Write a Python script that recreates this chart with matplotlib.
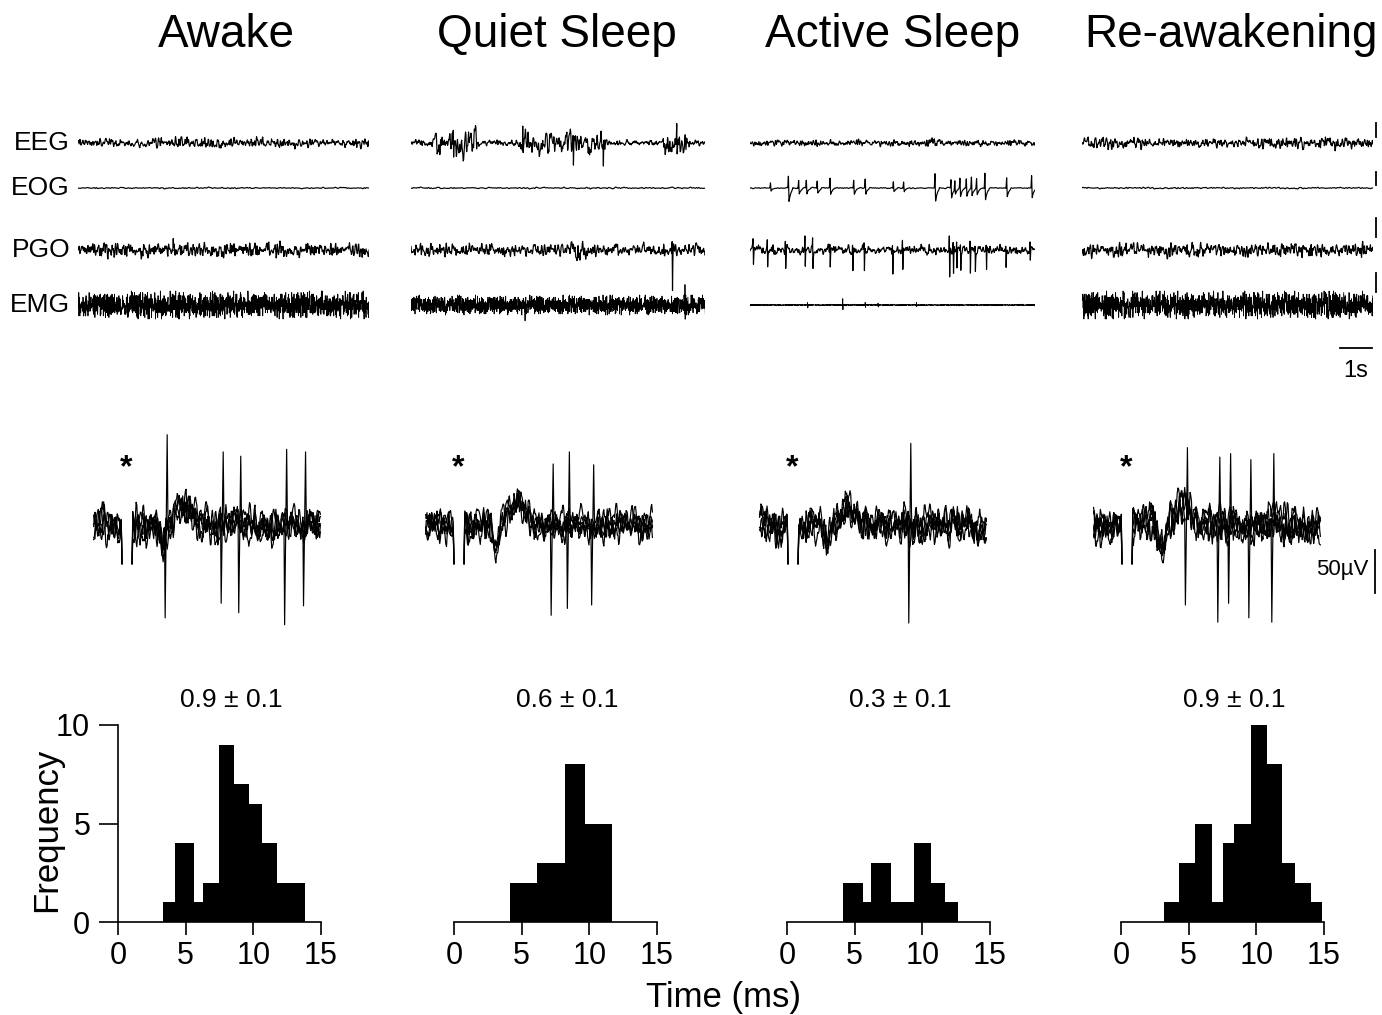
import numpy as np
import matplotlib.pyplot as plt

plt.rcParams['font.family'] = ['Liberation Sans', 'DejaVu Sans']

STATES = ["Awake", "Quiet Sleep", "Active Sleep", "Re-awakening"]
CHANNELS = ["EEG", "EOG", "PGO", "EMG"]

# ---- polygraphic records (top row) ----
RECORD_SECONDS = [9.1, 9.2, 8.9, 9.1]
# background amplitude of EEG, EOG, PGO, EMG in each state
TRACE_AMPLITUDE = [
    [6.0, 1.0, 9.0, 14.0],
    [4.0, 1.0, 8.0, 10.0],
    [4.0, 0.8, 6.0, 0.8],
    [6.0, 1.0, 9.0, 14.0],
]
# stretches of larger activity: (start s, end s, amplitude)
AWAKE_EEG_BURSTS = [(2.2, 4.6, 8), (5.5, 6.5, 8), (8.6, 9.1, 9)]
QUIET_EEG_BURSTS = [(0.66, 2.06, 18), (3.34, 6.12, 16), (7.88, 8.72, 17)]
QUIET_PGO_BURSTS = [(5.0, 5.5, 14)]
ACTIVE_EEG_BURSTS = [(5.5, 5.9, 7)]
REAWAKE_EEG_BURSTS = [(0.0, 1.9, 9), (5.56, 8.7, 9)]
# sharp deflections: (time s, up, down)
AWAKE_PGO_WAVES = [(2.97, 9, 4)]
QUIET_EEG_WAVES = [(1.32, 22, 10), (3.49, 20, 8), (5.06, 8, 18), (6.0, 6, 22), (8.3, 8, 18)]
QUIET_PGO_WAVES = [(8.16, 15, 35)]
QUIET_EMG_SPIKES = [(3.56, 6, 18), (8.56, 16, 12)]
ACTIVE_EOG_REMS = [(0.63, 5, 3), (1.2, 12, 13), (1.51, 8, 6), (1.77, 8, 6), (2.1, 7, 5),
                   (2.5, 10, 6), (3.25, 8, 6), (3.59, 9, 6), (4.48, 6, 4), (4.79, 6, 4),
                   (5.78, 14, 13), (6.27, 8, 10), (6.41, 9, 6), (6.56, 10, 8), (6.77, 9, 8),
                   (6.93, 11, 8), (7.08, 9, 7), (7.34, 15, 12), (8.02, 10, 9), (8.8, 12, 10)]
ACTIVE_PGO_WAVES = [(0.1, 8, 13), (0.54, 9, 17), (1.11, 8, 18), (1.72, 12, 20), (1.96, 8, 21),
                    (2.5, 6, 17), (3.2, 6, 20), (3.56, 8, 20), (4.45, 6, 23), (4.76, 8, 20),
                    (6.23, 12, 30), (6.35, 10, 22), (6.46, 8, 20), (6.58, 8, 18), (6.88, 8, 25),
                    (7.03, 6, 18), (7.38, 6, 18), (7.99, 5, 18), (8.75, 5, 12)]
ACTIVE_EMG_BLIPS = [(1.8, 2, 2), (2.9, 6, 4), (3.6, 2, 2), (4.0, 2, 2), (5.2, 2, 2)]

BURSTS = {(0, 0): AWAKE_EEG_BURSTS, (1, 0): QUIET_EEG_BURSTS, (1, 2): QUIET_PGO_BURSTS,
          (2, 0): ACTIVE_EEG_BURSTS, (3, 0): REAWAKE_EEG_BURSTS}
EVENTS = {(0, 2): AWAKE_PGO_WAVES, (1, 0): QUIET_EEG_WAVES, (1, 2): QUIET_PGO_WAVES,
          (1, 3): QUIET_EMG_SPIKES, (2, 1): ACTIVE_EOG_REMS, (2, 2): ACTIVE_PGO_WAVES,
          (2, 3): ACTIVE_EMG_BLIPS}

# hand-typed digits used as the irregular background of the raw records
NOISE_DIGITS = ("8305172946" "6183920475" "2947581036" "5071839264" "9360415827"
                "1748263905" "4829106357" "0563948172" "3916275084" "6285039714"
                "7402958163" "1957384620" "5831026749" "0274619385" "9648307512"
                "3185729406" "6720493851" "4093861275" "2569170438" "8136402597"
                "0718253964" "7")

# ---- superimposed sweeps after stimulation (middle row) ----
SWEEPS_PER_STATE = 5
SWEEP_NOISE_UV = [27, 25, 27, 27]
FIELD_DIP = [(2.7, -24), (2.75, -28), (2.6, -24), (2.65, -26)]
FIELD_BUMP = [(4.2, 22), (4.3, 28), (4.0, 22), (4.1, 22)]
ARTIFACT_UV = -45
SPIKE_LATENCY_MS = [[3.06, 7.2, 8.5, 11.9, 13.3], [7.06, 8.24, 10.05], [8.8],
                    [4.57, 6.96, 7.76, 9.24, 10.96]]
SPIKE_UP_UV = [[105, 85, 80, 88, 85], [71, 85, 70], [95], [90, 79, 83, 76, 83]]
SPIKE_DOWN_UV = [[108, 91, 102, 116, 94], [105, 97, 93], [114], [93, 113, 91, 108, 113]]

# ---- latency histograms (bottom row) ----
HIST_EDGES = [
    [3.36, 4.24, 5.64, 6.25, 7.43, 8.58, 9.68, 10.61, 11.76, 13.80],
    [4.16, 6.14, 8.19, 9.65, 11.71],
    [4.16, 5.64, 6.24, 7.72, 9.40, 10.64, 11.70, 12.62],
    [3.17, 4.29, 5.48, 6.70, 7.52, 8.38, 9.62, 10.79, 11.93, 12.85, 14.04, 14.83],
]
HIST_COUNTS = [
    [1, 4, 1, 2, 9, 7, 6, 4, 2],
    [2, 3, 8, 5],
    [2, 1, 3, 1, 4, 2, 1],
    [1, 3, 5, 1, 4, 5, 10, 8, 3, 2, 1],
]
MEAN_LABELS = ["0.9 ± 0.1", "0.6 ± 0.1", "0.3 ± 0.1", "0.9 ± 0.1"]

DIGITS = np.array([int(ch) for ch in NOISE_DIGITS])


def texture(n, stride, offset, length):
    idx = (np.arange(n) * stride + offset) % length
    return (DIGITS[idx] - 4.5) / 4.5


def noise(n, a, b, kernel=None):
    s = texture(n, 7 + a % 11, a * 13, 211) + texture(n, 3 + b % 7, b * 5, 197)
    if kernel is not None:
        s = np.convolve(s, kernel, mode='same')
    return s / np.abs(s).max()


W, H = 1382, 1015
fig = plt.figure(figsize=(W / 100, H / 100), dpi=100)


def add_px_axes(x0, y0, x1, y1):
    ax = fig.add_axes([x0 / W, 1 - y1 / H, (x1 - x0) / W, (y1 - y0) / H])
    return ax


def fig_text(x, y, s, **kw):
    fig.text(x / W, 1 - y / H, s, **kw)


# titles
COL_CENTER = [226, 557, 893, 1231]
for c, state in enumerate(STATES):
    fig_text(COL_CENTER[c], 35, state, ha='center', va='center', fontsize=33)

# top records
COL_X0 = [78, 411, 750, 1082]
ROW_Y = [143, 188, 250, 305]
PX_PER_S = 32
SAMPLE_S = [0.012, 0.02, 0.012, 0.006]
SMOOTH = [[0.25, 0.5, 0.25], [0.25, 0.5, 0.25], [0.25, 0.5, 0.25], None]
DECAY = [0.3, 0.7, 0.3, 0.2]
KLEN = [2, 6, 2, 1]

for k, ch in enumerate(CHANNELS):
    fig_text(70, ROW_Y[k], ch, ha='right', va='center', fontsize=19)

for c in range(4):
    dur = RECORD_SECONDS[c]
    ax = add_px_axes(COL_X0[c], 100, COL_X0[c] + dur * PX_PER_S, 385)
    ax.set_xlim(0, dur)
    ax.set_ylim(385, 100)
    ax.axis('off')
    for k in range(4):
        dt = SAMPLE_S[k]
        n = int(round(dur / dt)) + 1
        t = np.arange(n) * dt
        env = np.full(n, TRACE_AMPLITUDE[c][k])
        for t0, t1, a in BURSTS.get((c, k), []):
            env[(t >= t0) & (t <= t1)] = a
        sig = noise(n, 5 * c + k + 1, 3 * c + 2 * k + 1, SMOOTH[k]) * env
        for te, up, down in EVENTS.get((c, k), []):
            i = int(round(te / dt))
            kern = np.r_[up, -down * DECAY[k] ** np.arange(KLEN[k])]
            m = min(len(kern), n - i)
            sig[i:i + m] += kern[:m]
        ax.plot(t, ROW_Y[k] - sig, color='black', lw=0.6 if k == 3 else 0.85)
    if c == 3:
        xb = dur + 0.09
        for y0, y1 in [(123, 137), (172, 185), (218, 237), (273, 292)]:
            ax.plot([xb, xb], [y0, y1], color='black', lw=1.3, clip_on=False)
        ax.plot([8.06, 9.06], [348, 348], color='black', lw=1.3, clip_on=False)
        ax.text(8.56, 371, '1s', ha='center', va='center', fontsize=17)

# sweeps
STIM_X = [126, 458, 792, 1126]
PX_PER_MS = 13.5
PX_PER_UV = 0.86
SWEEP_KERNEL = [0.1, 0.2, 0.4, 0.2, 0.1]
t_sw = np.arange(-2.4, 14.45, 0.05)
gap = (t_sw > -0.3) & (t_sw < 0.4)
i0 = np.argmax(gap) - 1
i1 = len(gap) - np.argmax(gap[::-1])
for c in range(4):
    ax = add_px_axes(STIM_X[c] - 40, 430, STIM_X[c] + 200, 640)
    ax.set_xlim(-40 / PX_PER_MS, 200 / PX_PER_MS)
    ax.set_ylim(-(640 - 525) / PX_PER_UV, (525 - 430) / PX_PER_UV)
    ax.axis('off')
    dip_t, dip_v = FIELD_DIP[c]
    bump_t, bump_v = FIELD_BUMP[c]
    field = (dip_v * np.exp(-((t_sw - dip_t) / 0.3) ** 2)
             + bump_v * np.exp(-((t_sw - bump_t) / 0.8) ** 2))
    lat = SPIKE_LATENCY_MS[c]
    for j in range(SWEEPS_PER_STATE):
        y = field + SWEEP_NOISE_UV[c] * noise(len(t_sw), 7 * c + j + 3, 5 * c + 2 * j + 2,
                                              SWEEP_KERNEL)
        y[i0] = ARTIFACT_UV
        y[i1] = ARTIFACT_UV
        y[gap] = np.nan
        if j < len(lat):
            i = int(round((lat[j] - t_sw[0]) / 0.05))
            up, down = SPIKE_UP_UV[c][j], SPIKE_DOWN_UV[c][j]
            y[i - 3:i + 2] = [-down, -0.4 * down, 0.3 * up, up, 0.15 * up]
        ax.plot(t_sw, y, color='black', lw=0.85)
    ax.text(0, 57, '*', ha='center', va='baseline', fontsize=23, fontweight='bold')
    if c == 3:
        xs = (1375 - STIM_X[c]) / PX_PER_MS
        ax.plot([xs, xs], [-79, -29], color='black', lw=1.3, clip_on=False)
        ax.text((1368 - STIM_X[c]) / PX_PER_MS, -52, '50µV', ha='right', va='center', fontsize=16)

# histograms
HIST_X0 = [118, 454, 787, 1121]
for c in range(4):
    ax = add_px_axes(HIST_X0[c], 725, HIST_X0[c] + 203, 922)
    ax.stairs(HIST_COUNTS[c], HIST_EDGES[c], fill=True, color='black')
    ax.set_xlim(0, 15)
    ax.set_ylim(0, 10)
    ax.set_xticks([0, 5, 10, 15])
    ax.spines['top'].set_visible(False)
    ax.spines['right'].set_visible(False)
    ax.spines['bottom'].set_linewidth(1.2)
    ax.spines['left'].set_linewidth(1.2)
    ax.tick_params(axis='x', direction='out', length=9, width=1.2, labelsize=22, pad=5)
    if c == 0:
        ax.set_yticks([0, 5, 10])
        ax.tick_params(axis='y', direction='out', length=14, width=1.2, labelsize=22, pad=6)
    else:
        ax.set_yticks([])
        ax.spines['left'].set_visible(False)
    ax.text(0.557, 1.127, MEAN_LABELS[c], transform=ax.transAxes,
            ha='center', va='center', fontsize=19)

fig_text(47, 830, 'Frequency', rotation=90, ha='center', va='center', fontsize=25)
fig_text(723, 997, 'Time (ms)', ha='center', va='center', fontsize=25)

fig.savefig('out.png', dpi=100)
